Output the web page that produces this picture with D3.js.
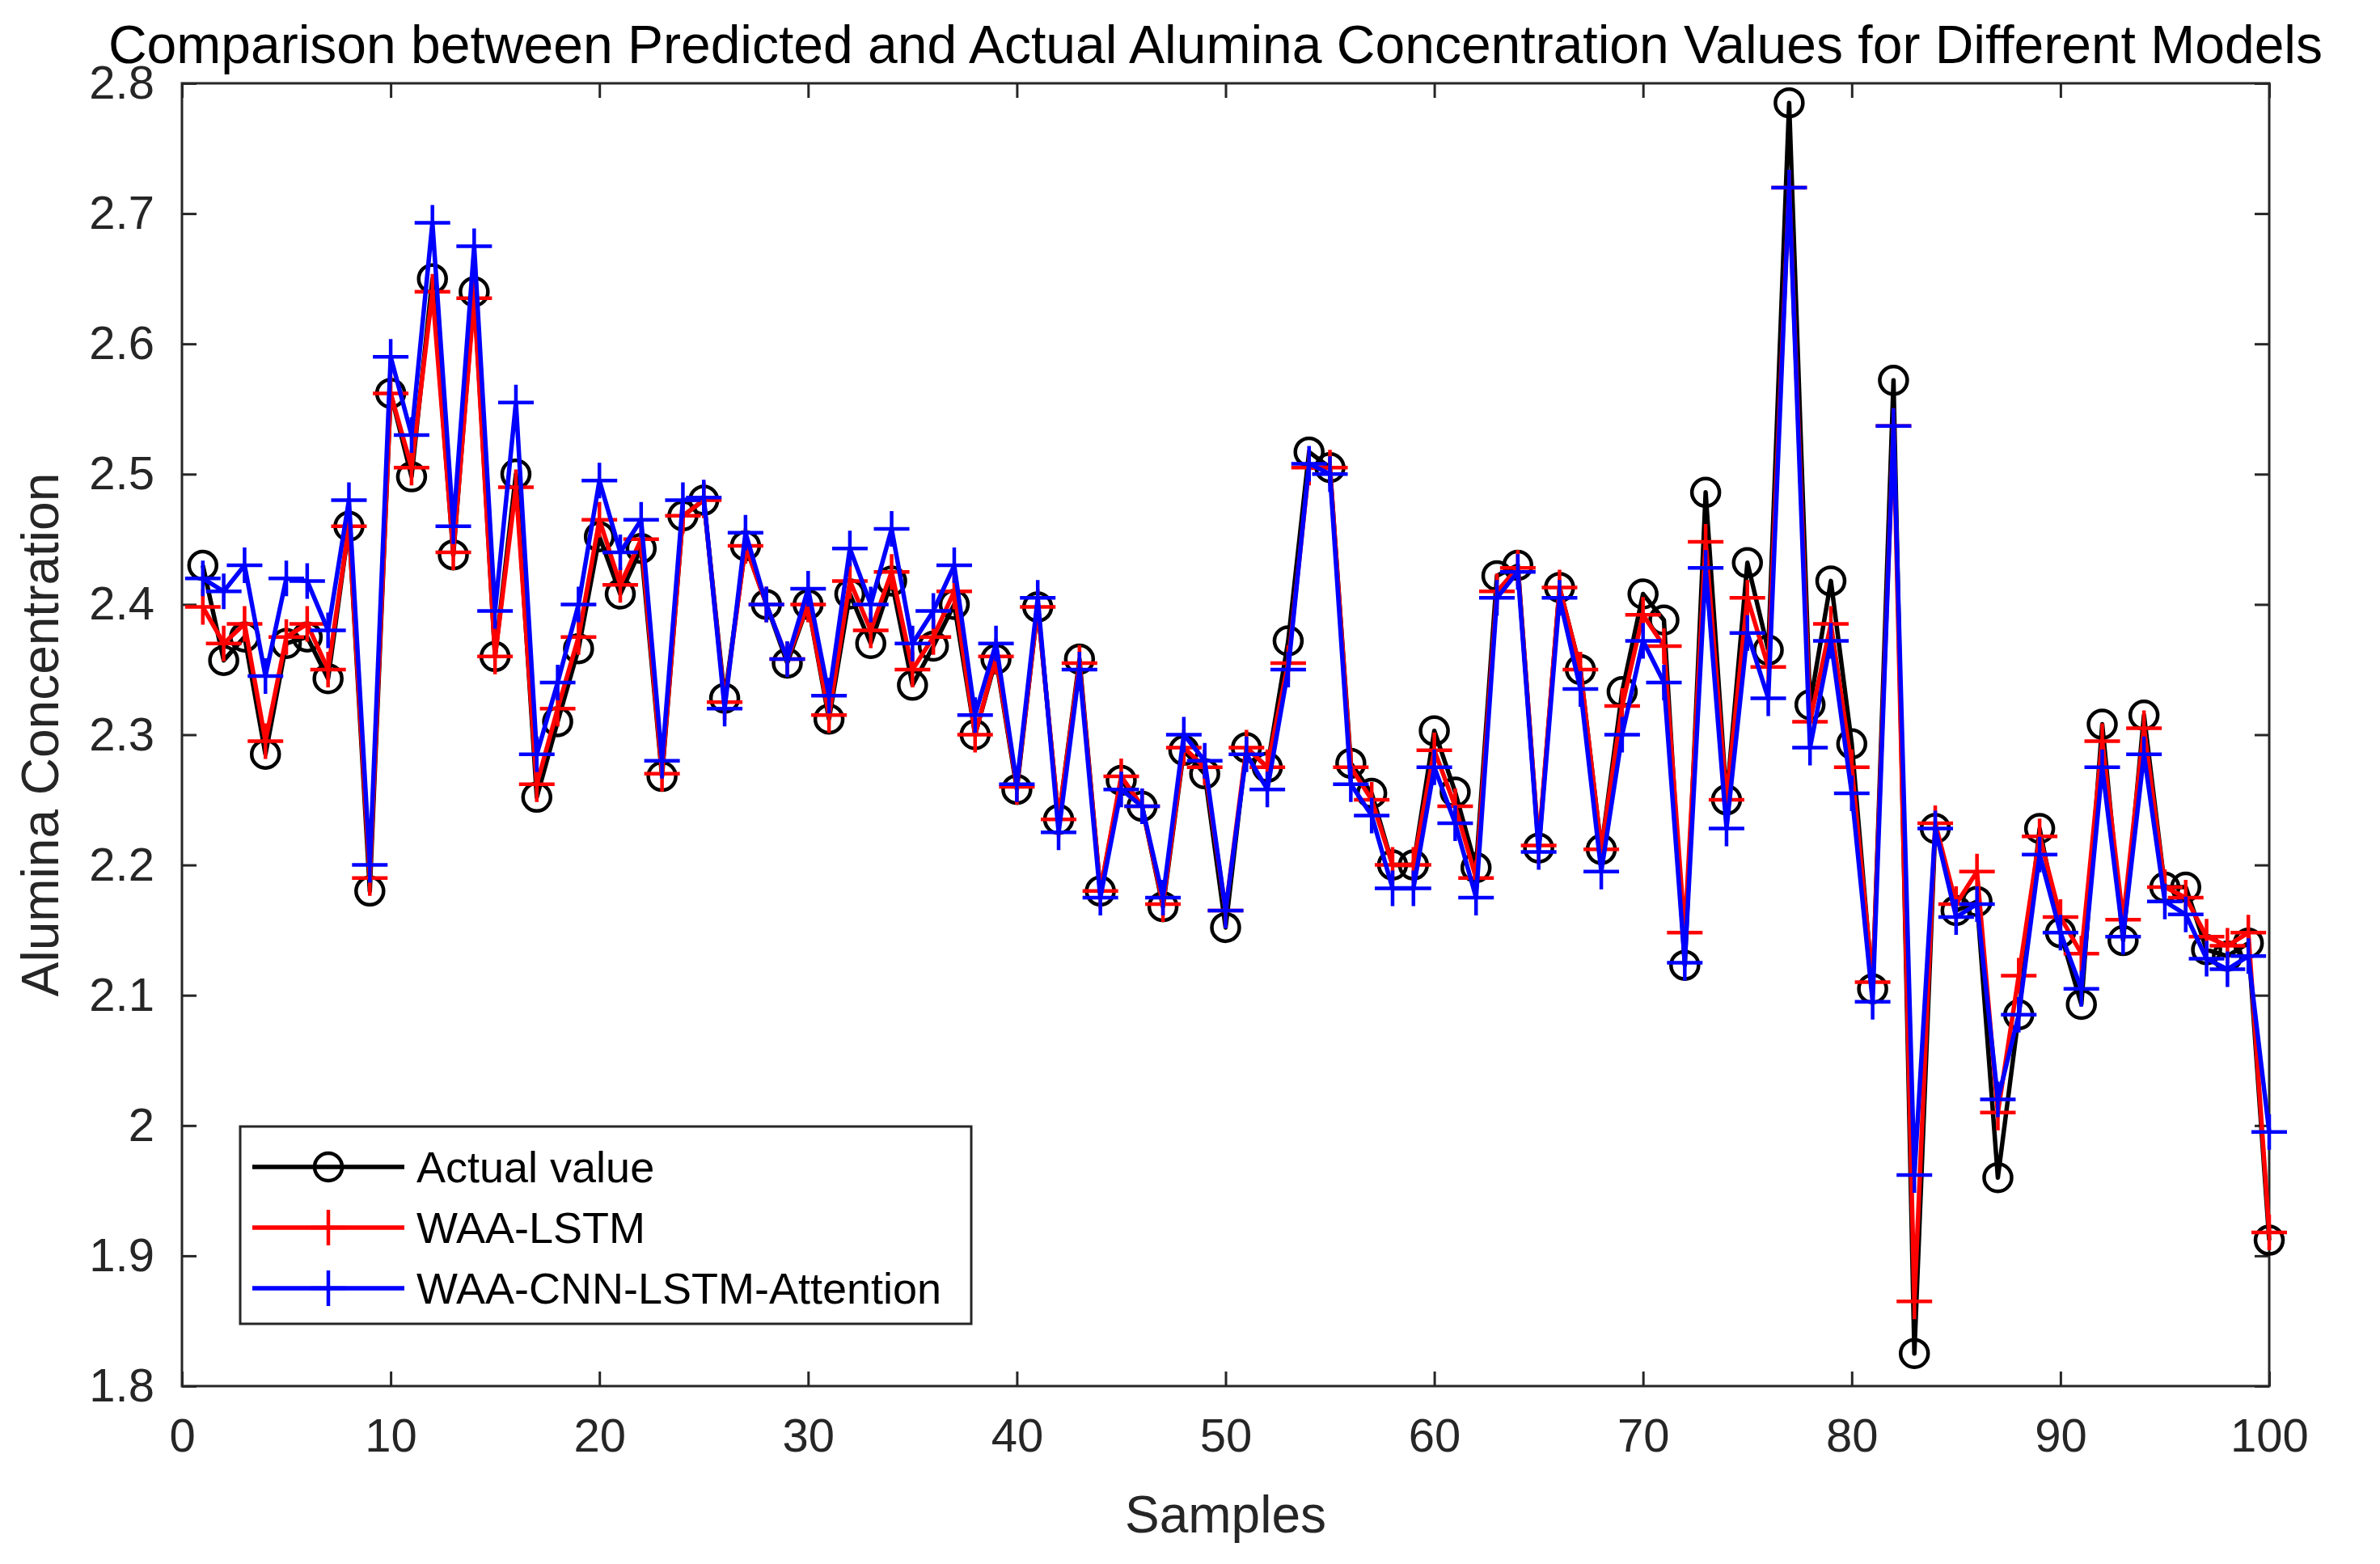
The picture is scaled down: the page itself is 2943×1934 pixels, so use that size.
<!DOCTYPE html>
<html>
<head>
<meta charset="utf-8">
<script src="https://cdn.jsdelivr.net/npm/d3@7"></script>
<style>
body{margin:0;background:#fff;}
text{font-family:"Liberation Sans",Arial,sans-serif;}
</style>
</head>
<body>
<svg id="chart" width="2943" height="1934"></svg>
<script>
/* values */
var actualValues = [2.43,2.357,2.375,2.285,2.37,2.375,2.343,2.46,2.18,2.562,2.498,2.65,2.438,2.64,2.36,2.50,2.252,2.31,2.366,2.452,
2.408,2.443,2.268,2.468,2.48,2.328,2.445,2.40,2.355,2.40,2.312,2.408,2.37,2.418,2.338,2.368,2.40,2.30,2.358,2.258,
2.398,2.235,2.358,2.18,2.265,2.245,2.168,2.288,2.27,2.152,2.29,2.275,2.372,2.517,2.505,2.278,2.255,2.20,2.20,2.303,
2.256,2.198,2.422,2.43,2.213,2.413,2.35,2.212,2.333,2.408,2.388,2.123,2.486,2.25,2.432,2.365,2.785,2.323,2.418,2.293,
2.105,2.572,1.825,2.228,2.165,2.172,1.96,2.085,2.228,2.148,2.093,2.308,2.142,2.315,2.183,2.183,2.135,2.13,2.14,1.912];
var lstmValues = [2.398,2.37,2.385,2.295,2.375,2.385,2.35,2.46,2.19,2.562,2.505,2.64,2.44,2.635,2.36,2.49,2.262,2.32,2.375,2.465,
2.415,2.45,2.27,2.468,2.48,2.325,2.445,2.40,2.358,2.40,2.315,2.418,2.38,2.425,2.35,2.375,2.41,2.30,2.36,2.26,
2.398,2.235,2.355,2.18,2.268,2.245,2.17,2.29,2.275,2.165,2.29,2.275,2.355,2.505,2.505,2.275,2.25,2.20,2.20,2.288,
2.245,2.19,2.41,2.428,2.215,2.413,2.35,2.212,2.322,2.392,2.368,2.148,2.448,2.25,2.405,2.352,2.72,2.31,2.385,2.275,
2.11,2.537,1.865,2.232,2.17,2.195,2.01,2.115,2.222,2.16,2.132,2.295,2.158,2.305,2.183,2.175,2.145,2.138,2.148,1.918];
var attnValues = [2.42,2.41,2.43,2.345,2.42,2.418,2.38,2.48,2.20,2.59,2.53,2.693,2.46,2.675,2.395,2.555,2.285,2.34,2.40,2.495,
2.44,2.465,2.28,2.48,2.482,2.32,2.455,2.40,2.358,2.412,2.33,2.443,2.40,2.458,2.37,2.395,2.43,2.315,2.37,2.262,
2.405,2.225,2.35,2.175,2.258,2.245,2.175,2.30,2.28,2.165,2.285,2.258,2.35,2.508,2.50,2.262,2.238,2.182,2.182,2.275,
2.232,2.175,2.405,2.425,2.21,2.405,2.335,2.195,2.30,2.372,2.34,2.125,2.428,2.228,2.378,2.328,2.72,2.29,2.372,2.255,
2.095,2.537,1.962,2.228,2.16,2.17,2.02,2.085,2.208,2.148,2.105,2.275,2.145,2.285,2.172,2.162,2.128,2.12,2.13,1.995];
var xTicks = [0,10,20,30,40,50,60,70,80,90,100];
var yTicks = [1.8,1.9,2,2.1,2.2,2.3,2.4,2.5,2.6,2.7,2.8];
var seriesNames = ["Actual value","WAA-LSTM","WAA-CNN-LSTM-Attention"];
var seriesColors = ["#000000","#ff0000","#0000ff"];
var seriesMarkers = ["circle","plus","plus"];

var L=225,R=2806,T=103,B=1714;
var svg = d3.select("#chart");
var x = d3.scaleLinear().domain([0,100]).range([L,R]);
var y = d3.scaleLinear().domain([1.8,2.8]).range([B,T]);

svg.append("rect").attr("x",L).attr("y",T).attr("width",R-L).attr("height",B-T)
	.attr("fill","none").attr("stroke","#262626").attr("stroke-width",3);

function styleAxis(g){
	g.select(".domain").remove();
	g.selectAll(".tick line").attr("stroke","#262626").attr("stroke-width",3);
	g.selectAll(".tick text").attr("font-size",58).attr("fill","#262626");
}
svg.append("g").attr("transform","translate(0,"+B+")")
	.call(d3.axisBottom(x).tickValues(xTicks).tickSizeInner(-18).tickPadding(40).tickFormat(d3.format("d")))
	.call(styleAxis);
svg.append("g").attr("transform","translate(0,"+T+")")
	.call(d3.axisTop(x).tickValues(xTicks).tickSizeInner(-18).tickFormat(""))
	.call(styleAxis);
svg.append("g").attr("transform","translate("+L+",0)")
	.call(d3.axisLeft(y).tickValues(yTicks).tickSizeInner(-18).tickPadding(34).tickFormat(function(d){return d==2?"2":d3.format(".1f")(d);}))
	.call(styleAxis);
svg.append("g").attr("transform","translate("+R+",0)")
	.call(d3.axisRight(y).tickValues(yTicks).tickSizeInner(-18).tickFormat(""))
	.call(styleAxis);

svg.append("text").attr("x",1503).attr("y",78).attr("text-anchor","middle")
	.attr("font-size",66).attr("fill","#000").text("Comparison between Predicted and Actual Alumina Concentration Values for Different Models");
svg.append("text").attr("x",(L+R)/2).attr("y",1895).attr("text-anchor","middle")
	.attr("font-size",64).attr("fill","#262626").text("Samples");
svg.append("text").attr("transform","translate(72,"+(T+B)/2+") rotate(-90)").attr("text-anchor","middle")
	.attr("font-size",64).attr("fill","#262626").text("Alumina Concentration");

function drawMarker(g,type,cx,cy,color){
	if(type=="circle"){
		g.append("circle").attr("cx",cx).attr("cy",cy).attr("r",17)
			.attr("fill","none").attr("stroke",color).attr("stroke-width",4.5);
	}else{
		g.append("path").attr("d","M"+(cx-22)+","+cy+"h44M"+cx+","+(cy-22)+"v44")
			.attr("stroke",color).attr("stroke-width",4.5);
	}
}

var allSeries = [actualValues,lstmValues,attnValues];
var line = d3.line().x(function(d,i){return x(i+1);}).y(function(d){return y(d);});
for(var s=0;s<allSeries.length;s++){
	var g = svg.append("g");
	g.append("path").datum(allSeries[s]).attr("d",line)
		.attr("fill","none").attr("stroke",seriesColors[s]).attr("stroke-width",5.5).attr("stroke-linejoin","round");
	for(var i=0;i<allSeries[s].length;i++){
		drawMarker(g,seriesMarkers[s],x(i+1),y(allSeries[s][i]),seriesColors[s]);
	}
}

/* legend */
var lg = svg.append("g");
lg.append("rect").attr("x",297).attr("y",1393).attr("width",904).attr("height",244)
	.attr("fill","#fff").attr("stroke","#262626").attr("stroke-width",3);
for(var k=0;k<seriesNames.length;k++){
	var ly = 1443+k*75;
	lg.append("line").attr("x1",312).attr("x2",500).attr("y1",ly).attr("y2",ly)
		.attr("stroke",seriesColors[k]).attr("stroke-width",5.5);
	drawMarker(lg,seriesMarkers[k],406,ly,seriesColors[k]);
	lg.append("text").attr("x",515).attr("y",ly+19).attr("font-size",54).attr("fill","#000").text(seriesNames[k]);
}
</script>
</body>
</html>
